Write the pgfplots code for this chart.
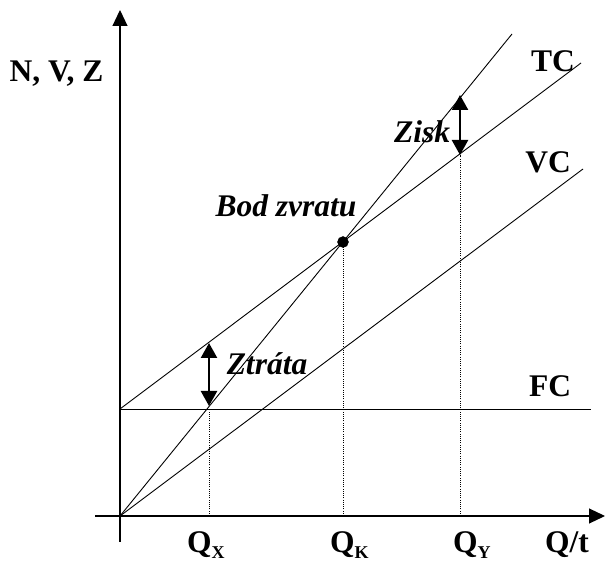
\documentclass[border=0pt]{standalone}
\usepackage{pgfplots}
\pgfplotsset{compat=1.18}
\usepackage{fontspec}
\setmainfont{Liberation Serif}
\usetikzlibrary{arrows.meta}
\newcommand{\lbl}{\fontsize{31.5bp}{33bp}\selectfont\bfseries}
\newcommand{\sub}[1]{\raisebox{-6bp}{\fontsize{18bp}{18bp}\selectfont\bfseries #1}}
\begin{document}
\begin{tikzpicture}
\begin{axis}[width=608bp,height=563bp,scale only axis,hide axis,clip=false,
  xmin=-120,xmax=488,ymin=-47,ymax=516]
% axes
\addplot[black,line width=1.1bp,-{Triangle[length=16bp,width=15bp]}] coordinates {(-25,0)(485,0)};
\addplot[black,line width=1.1bp,-{Triangle[length=16bp,width=15bp]}] coordinates {(0,-26)(0,506)};
% revenue N
\addplot[black,line width=0.9bp] coordinates {(0,0)(392,482)};
% TC
\addplot[black,line width=0.9bp] coordinates {(0,107)(461,453)};
% VC
\addplot[black,line width=0.9bp] coordinates {(0,0)(463,347)};
% FC
\addplot[black,line width=0.9bp] coordinates {(0,107)(471,107)};
% dotted verticals
\addplot[black,line width=0.8bp,dash pattern=on 1bp off 1.2bp] coordinates {(89,0)(89,107)};
\addplot[black,line width=0.8bp,dash pattern=on 1bp off 1.2bp] coordinates {(223,0)(223,274)};
\addplot[black,line width=0.8bp,dash pattern=on 1bp off 1.2bp] coordinates {(340,0)(340,361)};
% double arrows
\addplot[black,line width=2.4bp,{Triangle[length=15bp,width=16bp]}-{Triangle[length=15bp,width=16bp]}] coordinates {(89,110)(89,173)};
\addplot[black,line width=2.4bp,{Triangle[length=15bp,width=16bp]}-{Triangle[length=15bp,width=16bp]}] coordinates {(340,361)(340,421)};
% break-even point
\addplot[black,only marks,mark=*,mark size=5.5bp] coordinates {(223,274)};
% labels
\node[anchor=base] at (axis cs:-63.5,434) {\lbl N, V, Z};
\node[anchor=base] at (axis cs:433,444) {\lbl TC};
\node[anchor=base] at (axis cs:428,343) {\lbl VC};
\node[anchor=base] at (axis cs:430,119) {\lbl FC};
\node[anchor=base] at (axis cs:147,141) {\lbl\itshape Ztráta};
\node[anchor=base] at (axis cs:302,373) {\lbl\itshape Zisk};
\node[anchor=base] at (axis cs:166,299) {\lbl\itshape Bod zvratu};
\node[anchor=base west,inner sep=0pt] at (axis cs:67,-36) {\lbl Q\sub{X}};
\node[anchor=base west,inner sep=0pt] at (axis cs:210,-36) {\lbl Q\sub{K}};
\node[anchor=base west,inner sep=0pt] at (axis cs:333,-36) {\lbl Q\sub{Y}};
\node[anchor=base west,inner sep=0pt] at (axis cs:425,-36) {\lbl Q/t};
\end{axis}
\pgfresetboundingbox
\path[use as bounding box] (current axis.south west) rectangle (current axis.north east);
\end{tikzpicture}
\end{document}
